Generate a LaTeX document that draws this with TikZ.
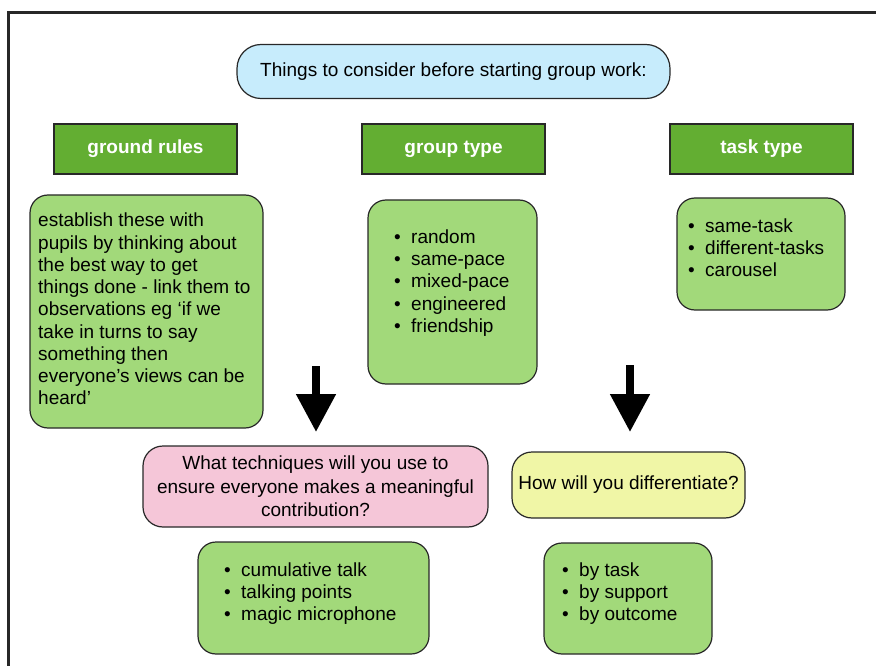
\documentclass[tikz,border=0pt]{standalone}
\usepackage{fontspec}
\setmainfont{Liberation Sans}
\usetikzlibrary{arrows.meta}

\definecolor{titleblue}{RGB}{199,236,252}
\definecolor{headgreen}{RGB}{99,174,50}
\definecolor{boxgreen}{RGB}{162,217,122}
\definecolor{askpink}{RGB}{245,198,216}
\definecolor{askyellow}{RGB}{240,246,166}
\definecolor{edgegray}{RGB}{40,40,40}

\newcommand{\bul}{\makebox[17pt][l]{\textbullet}}

\begin{document}
\begin{tikzpicture}[x=1pt,y=-1pt,
  every node/.style={font=\fontsize{19}{22.25}\selectfont},
  box/.style={draw=edgegray, line width=1.2pt, rounded corners=18pt},
  head/.style={draw=edgegray, line width=1.2pt, fill=headgreen, text=white,
    font=\fontsize{19}{22.25}\selectfont\bfseries, minimum width=183, minimum height=50},
  listbox/.style={box, fill=boxgreen},
  listtext/.style={anchor=north west, inner sep=0pt, align=left},
  bigarrow/.style={line width=8pt, -{Triangle[width=38pt,length=38pt]}}]
\useasboundingbox (0,0) rectangle (876,666);

% frame
\draw[line width=3pt, edgegray] (8,666) -- (8,12.5) -- (876,12.5);

% title
\node[box, fill=titleblue, rounded corners=24pt, minimum width=433, minimum height=54]
  (title) at (453.5,71.5) {Things to consider before starting group work:};

% headings
\node[head] (rules) at (145.5,149) {ground rules};
\node[head] (group) at (453.5,149) {group type};
\node[head] (task) at (761.5,149) {task type};

% boxes under the headings
\node[listbox, minimum width=233, minimum height=233] (rulesbox) at (146.5,311.5) {};
\node[listtext] (rulestext) at (38,213) {establish these with\\
  pupils by thinking about\\
  the best way to get\\
  things done - link them to\\
  observations eg ‘if we\\
  take in turns to say\\
  something then\\
  everyone’s views can be\\
  heard’};

\node[listbox, minimum width=169, minimum height=184] (groupbox) at (452.5,292) {};
\node[listtext] (grouptext) at (394,229.4) {\bul random\\ \bul same-pace\\
  \bul mixed-pace\\ \bul engineered\\ \bul friendship};

\node[listbox, minimum width=168, minimum height=112] (taskbox) at (761,254) {};
\node[listtext] (tasktext) at (688,218.4) {\bul same-task\\ \bul different-tasks\\
  \bul carousel};

% arrows
\coordinate (arrowLtop) at (316,366);
\coordinate (arrowLtip) at (316,432);
\coordinate (arrowRtop) at (630,365);
\coordinate (arrowRtip) at (630,432);
\draw[bigarrow] (arrowLtop) -- (arrowLtip);
\draw[bigarrow] (arrowRtop) -- (arrowRtip);

% questions
\node[box, fill=askpink, rounded corners=20pt, minimum width=345, minimum height=81, align=center,
  font=\fontsize{19}{23.5}\selectfont]
  (talkq) at (315.5,486.5) {What techniques will you use to\\
  ensure everyone makes a meaningful\\ contribution?};
\node[box, fill=askyellow, rounded corners=20pt, minimum width=233, minimum height=66]
  (diffq) at (628.5,485) {How will you differentiate?};

% answers
\node[listbox, minimum width=231, minimum height=112] (talkbox) at (313.5,598) {};
\node[listtext] (talktext) at (224,562.4) {\bul cumulative talk\\ \bul talking points\\
  \bul magic microphone};

\node[listbox, minimum width=168, minimum height=111] (diffbox) at (628,598.5) {};
\node[listtext] (difftext) at (562,562.4) {\bul by task\\ \bul by support\\ \bul by outcome};
\end{tikzpicture}
\end{document}
